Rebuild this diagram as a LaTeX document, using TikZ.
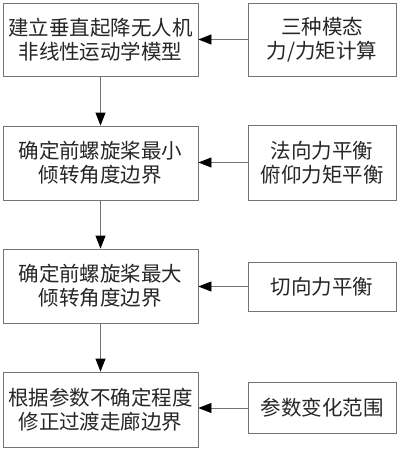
\documentclass[tikz,border=0pt]{standalone}
\usepackage{fontspec}
\setmainfont{Noto Sans CJK SC}
\usetikzlibrary{arrows.meta}
\begin{document}
\begin{tikzpicture}[x=1pt,y=-1pt,
  box/.style={draw=black!55,line width=0.8pt,inner sep=0pt,align=center,
    font=\fontsize{20.5}{24}\selectfont,text=black!85},
  conn/.style={draw=black!55,line width=0.8pt,-{Triangle[length=13pt,width=10pt,color=black]}}]
\useasboundingbox (0,0) rectangle (400,450);
\node[box,minimum width=195pt,minimum height=73pt] (b1) at (100.5,39.5) {建立垂直起降无人机\\非线性运动学模型};
\node[box,minimum width=148pt,minimum height=73pt] (r1) at (322,39.5) {三种模态\\力/力矩计算};
\node[box,minimum width=195pt,minimum height=74pt] (b2) at (100.5,163) {确定前螺旋桨最小\\倾转角度边界};
\node[box,minimum width=148pt,minimum height=75pt] (r2) at (322,162.5) {法向力平衡\\俯仰力矩平衡};
\node[box,minimum width=195pt,minimum height=74pt] (b3) at (100.5,286) {确定前螺旋桨最大\\倾转角度边界};
\node[box,minimum width=148pt,minimum height=49pt] (r3) at (322,286.5) {切向力平衡};
\node[box,minimum width=195pt,minimum height=75pt] (b4) at (100.5,409.5) {根据参数不确定程度\\修正过渡走廊边界};
\node[box,minimum width=148pt,minimum height=51pt] (r4) at (322,408) {参数变化范围};
\draw[conn] (r1.west) -- (r1.west -| b1.east);
\draw[conn] (r2.west) -- (r2.west -| b2.east);
\draw[conn] (r3.west) -- (r3.west -| b3.east);
\draw[conn] (r4.west) -- (r4.west -| b4.east);
\draw[conn] (b1.south) -- (b2.north);
\draw[conn] (b2.south) -- (b3.north);
\draw[conn] (b3.south) -- (b4.north);
\end{tikzpicture}
\end{document}
